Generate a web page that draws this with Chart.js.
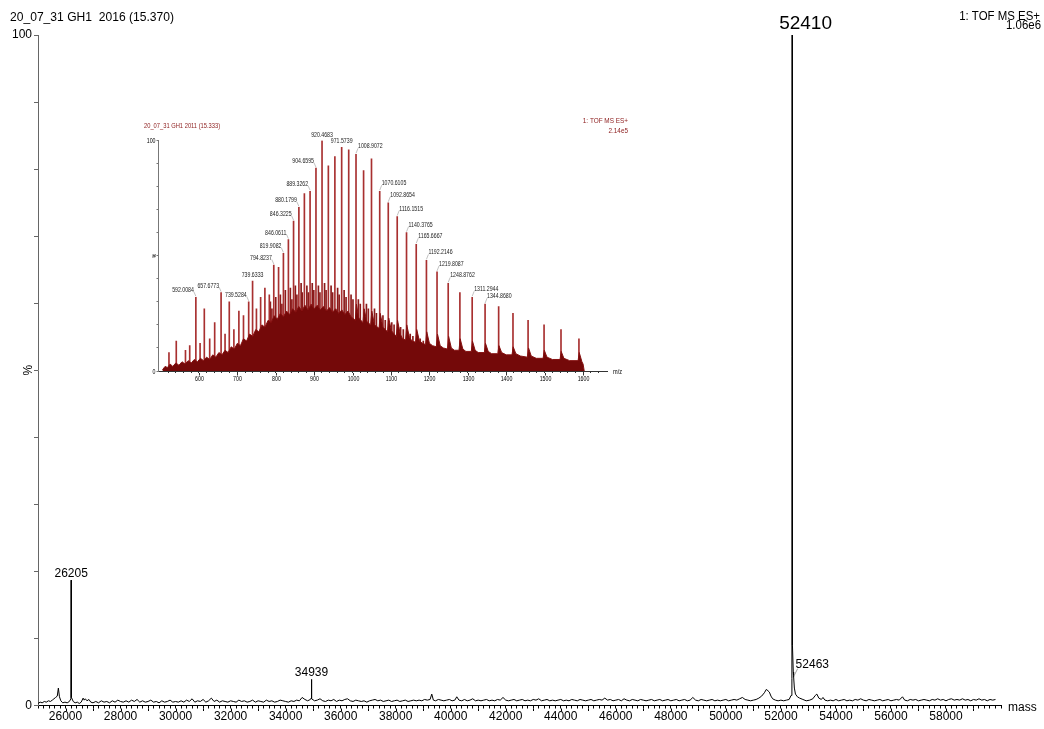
<!DOCTYPE html>
<html lang="en">
<head>
<meta charset="UTF-8">
<title>20_07_31 GH1 deconvoluted spectrum</title>
<script src="https://cdn.jsdelivr.net/npm/chart.js"></script>
<style>
  body { margin: 0; background: #fff; }
  #wrap { position: relative; width: 1044px; height: 729px; }
  #mainChart { position: absolute; left: 0; top: 0; }
  #insetChart { position: absolute; left: 130px; top: 105px; }
</style>
</head>
<body>
<div id="wrap">
  <canvas id="mainChart" width="1044" height="729"></canvas>
  <canvas id="insetChart" width="510" height="290"></canvas>
</div>
<script>
// deconvoluted spectrum, [mass, % of 1.06e6]
const mainSpectrum = [
  [25000,0.3],[25080,0.5],[25150,0.4],[25230,0.6],[25300,0.5],[25380,0.7],[25450,0.6],[25520,0.8],[25580,1.0],[25640,1.2],
  [25700,1.4],[25740,2.6],[25780,1.3],[25830,0.7],[25900,0.4],[25980,0.5],[26060,0.4],[26140,0.6],[26195,1.0],[26205,18.7],
  [26215,1.2],[26280,0.6],[26350,0.4],[26430,0.5],[26500,0.3],[26570,0.5],[26640,1.1],[26680,0.8],[26720,1.0],[26780,0.7],
  [26850,0.9],[26920,0.5],[27000,0.4],[27100,0.6],[27200,0.4],[27300,0.7],[27400,0.5],[27500,0.6],[27600,0.4],[27700,0.7],
  [27800,0.5],[27900,0.8],[28000,0.6],[28100,0.5],[28200,0.7],[28300,0.5],[28400,0.8],[28500,0.6],[28600,0.9],[28700,0.5],
  [28800,0.7],[28900,0.5],[29000,0.6],[29100,0.8],[29200,0.5],[29300,0.6],[29400,0.4],[29500,0.7],[29600,0.5],[29700,0.6],
  [29800,0.8],[29900,0.5],[30000,0.6],[30100,0.5],[30200,0.7],[30300,0.5],[30400,0.8],[30500,0.6],[30600,1.0],[30700,0.5],
  [30800,0.7],[30900,0.6],[31000,0.9],[31100,0.5],[31200,0.7],[31300,1.1],[31400,0.6],[31500,0.8],[31600,0.5],[31700,0.7],
  [31800,0.6],[31900,0.5],[32000,0.7],[32100,0.6],[32200,0.5],[32300,0.8],[32400,0.6],[32500,0.7],[32600,0.5],[32700,0.6],
  [32800,0.8],[32900,0.5],[33000,0.7],[33100,0.6],[33200,0.5],[33300,0.8],[33400,0.6],[33500,0.7],[33600,0.5],[33700,0.6],
  [33800,0.8],[33900,0.7],[34000,0.6],[34100,0.5],[34200,0.7],[34300,0.6],[34400,0.8],[34500,0.7],[34600,1.2],[34700,0.9],
  [34800,0.7],[34900,0.9],[34929,1.1],[34939,3.9],[34949,1.0],[35050,0.7],[35150,0.8],[35250,1.0],[35350,0.7],[35450,0.6],
  [35550,0.8],[35650,0.7],[35750,0.9],[35850,0.6],[35950,0.8],[36050,0.7],[36150,0.9],[36250,1.0],[36350,0.7],[36450,0.6],
  [36550,0.8],[36650,0.7],[36750,0.6],[36850,0.7],[36950,0.5],[37050,0.7],[37150,0.8],[37250,0.9],[37350,0.7],[37450,0.8],
  [37550,0.6],[37650,0.7],[37750,0.8],[37850,0.6],[37950,0.7],[38050,0.8],[38150,0.6],[38250,0.7],[38350,0.8],[38450,0.6],
  [38550,0.7],[38650,0.8],[38750,0.7],[38850,0.8],[38950,0.7],[39050,0.9],[39150,0.8],[39250,0.9],[39311,1.7],[39370,0.8],
  [39450,0.7],[39550,0.9],[39650,0.8],[39750,0.7],[39850,0.8],[39950,0.9],[40050,0.7],[40150,0.8],[40220,1.3],[40300,0.8],
  [40400,0.7],[40500,0.9],[40600,0.7],[40700,0.8],[40800,1.0],[40900,0.7],[41000,0.8],[41100,0.7],[41200,0.8],[41300,0.9],
  [41400,0.7],[41500,0.8],[41600,0.7],[41700,0.9],[41800,0.8],[41900,1.2],[42000,0.8],[42100,0.7],[42200,0.8],[42300,0.9],
  [42400,0.7],[42500,0.8],[42600,0.9],[42700,0.7],[42800,0.8],[42900,0.7],[43000,0.9],[43100,0.8],[43200,1.0],[43300,0.7],
  [43400,0.8],[43500,0.9],[43600,0.7],[43700,0.8],[43800,0.7],[43900,0.8],[44000,0.9],[44100,0.7],[44200,0.8],[44300,0.7],
  [44400,0.9],[44500,0.8],[44600,0.7],[44700,0.9],[44800,0.8],[44900,0.7],[45000,0.8],[45100,0.9],[45200,0.7],[45300,0.8],
  [45400,0.9],[45500,0.8],[45600,1.1],[45700,0.8],[45800,0.9],[45900,0.7],[46000,0.8],[46100,0.9],[46200,0.7],[46300,1.0],
  [46400,0.8],[46500,0.7],[46600,0.9],[46700,0.8],[46800,0.7],[46900,0.9],[47000,0.8],[47100,0.7],[47200,0.8],[47300,0.9],
  [47400,0.7],[47500,0.8],[47600,0.9],[47700,0.7],[47800,0.8],[47900,0.9],[48000,0.7],[48100,0.8],[48200,0.9],[48300,0.7],
  [48400,0.8],[48500,0.9],[48600,0.7],[48700,0.8],[48800,1.2],[48900,0.8],[49000,0.7],[49100,0.9],[49200,0.8],[49300,0.7],
  [49400,0.8],[49500,0.9],[49600,0.7],[49700,0.8],[49800,0.7],[49900,0.8],[50000,0.9],[50100,0.7],[50200,0.8],[50300,0.9],
  [50400,0.8],[50500,1.0],[50600,1.2],[50700,0.9],[50800,0.8],[50900,0.7],[51000,0.8],[51100,0.9],[51200,1.1],[51300,1.4],
  [51400,1.9],[51470,2.4],[51530,2.2],[51580,2.0],[51640,1.4],[51700,1.0],[51800,0.8],[51900,0.7],[52000,0.8],[52100,0.7],
  [52200,0.8],[52300,0.9],[52370,1.5],[52400,4.0],[52410,100],[52420,9],[52450,5],[52463,4.3],[52490,2.6],[52530,1.7],
  [52600,1.3],[52680,1.1],[52800,0.9],[52920,0.7],[53050,0.8],[53160,1.0],[53250,1.5],[53307,1.7],[53380,1.1],[53470,0.9],
  [53530,1.2],[53600,0.8],[53700,0.7],[53800,0.8],[53900,0.7],[54000,0.9],[54100,0.7],[54200,0.8],[54300,0.9],[54400,0.7],
  [54500,0.8],[54600,0.7],[54700,0.9],[54800,0.8],[54900,1.0],[55000,0.8],[55100,0.7],[55200,0.9],[55300,0.8],[55400,0.7],
  [55500,0.8],[55600,0.9],[55700,0.7],[55800,0.8],[55900,0.9],[56000,0.7],[56100,0.8],[56200,0.9],[56300,0.8],[56420,1.3],
  [56500,0.8],[56600,0.7],[56700,0.9],[56800,0.8],[56900,0.9],[57000,0.7],[57100,0.8],[57200,0.9],[57300,0.8],[57400,0.7],
  [57500,0.9],[57600,0.8],[57700,1.0],[57800,0.8],[57900,0.9],[58000,0.7],[58100,0.9],[58200,1.0],[58300,0.8],[58400,0.9],
  [58500,0.8],[58600,1.0],[58700,0.8],[58800,0.9],[58900,0.7],[59000,0.9],[59100,0.8],[59200,1.0],[59300,0.8],[59400,0.9],
  [59500,0.7],[59600,0.9],[59700,0.8],[59800,0.9]
];
const mainLabels = [26205, 34939, 52410, 52463];

// raw m/z spectrum (inset), resolved peaks [m/z, % of 2.14e5]
const insetPeaks = [
  [522,8],[541,13],[565,9],[576,11],[592.0084,32],[603,12],[614,27],[628,14],[641,21],[657.6773,34],
  [668,16],[679,30],[691,18],[704,26],[716,24],[729.5284,30],[739.6333,39],[749.7,27],[760.6,32],[771.7,36],
  [783.2,33],[794.8237,46],[807.3,45],[819.9082,51],[832.9,57],[846.3225,65],[860.1799,71],[874.5,77],[889.3262,78],[904.6595,88],
  [920.4683,100],[936.9,89],[953.9,93],[971.5739,97],[989.9,96],[1008.9072,94],[1028.6,87],[1049.2,92],[1070.6105,78],[1092.8654,73],
  [1116.1515,67],[1140.3765,60],[1165.6667,55],[1192.2146,48],[1219.8087,43],[1248.8762,38],[1279.3,34],[1311.2944,32],[1344.868,29],[1380.2,28],
  [1417.5,25],[1456.8,22],[1498.4,20],[1542.5,18],[1589.2,14]
];
// minor spikes riding on the envelope
const insetMinor = [
  [786,30],[790,27],[800,32],[812,33],[816,29],[825,35],[838,36],[842,31],[851,37],[855,33],
  [866,38],[869,34],[881,37],[885,34],[895,38],[899,35],[911,37],[915,34],[927,38],[931,35],
  [944,37],[948,34],[961,36],[965,33],[978,35],[983,32],[996,33],[1001,31],[1015,31],[1020,29],
  [1036,29],[1041,27],[1057,27],[1062,25],[1079,24],[1085,22],[1102,21],[1108,20],[1125,19],[1132,18],
  [1150,16],[1157,15],[1176,14],[1184,13]
];
// unresolved envelope under the charge series, [m/z, %]
const insetHump = [
  [505,0.5],[512,2],[518,1.5],[525,3],[532,2],[540,3.5],[548,2.5],[556,4],[564,3],[572,4.5],
  [580,3.5],[588,5],[596,4],[604,5.5],[612,4.5],[620,6],[628,5],[636,7],[644,6],[652,8],
  [660,7],[668,9],[676,8],[684,10.5],[692,9.5],[700,12],[708,11],[716,14],[724,13],[732,16],
  [740,15],[748,18],[756,17],[764,20],[772,19],[780,22],[788,21],[796,24],[804,22.5],[812,25],
  [820,23.5],[828,26],[836,24.5],[844,27],[852,25.5],[860,28],[868,26],[876,28.5],[884,26.5],[892,29],
  [900,27],[908,28.5],[916,26.5],[924,28],[932,26],[940,27.5],[948,25.5],[956,27],[964,25],[972,26.5],
  [980,24.5],[988,26],[996,23.5],[1007,22],[1010,29],[1016,23],[1027,21],[1030,27],[1037,21.5],[1047,20],
  [1050,26],[1057,20],[1069,18.5],[1072,25],[1079,19],[1091,17],[1094,23],[1101,17.5],[1114,15],[1117,22],
  [1124,16],[1130,14],[1138,13.5],[1141,20],[1148,14.5],[1155,13],[1164,12.5],[1167,18],[1174,13],[1182,12],
  [1190,11.5],[1193,17],[1200,12],[1208,11],[1218,10.5],[1221,16],[1228,11],[1236,10],[1247,9.5],[1250,15],
  [1257,10],[1265,9],[1277,9],[1280,14],[1287,9.5],[1295,8.5],[1309,8.5],[1312,13],[1319,9],[1327,8],
  [1343,8],[1346,12],[1353,8.5],[1362,7.5],[1378,7.5],[1381,11],[1388,8],[1400,7],[1415,7],[1418,10.5],
  [1425,7.5],[1437,6.5],[1455,6],[1458,10],[1465,6.5],[1478,5.5],[1496,5.5],[1499,9],[1506,6],[1520,5],
  [1540,5],[1543,8.5],[1550,5.5],[1565,4.5],[1587,4.5],[1590,8],[1597,4],[1600,3],[1603,0]
];
// annotated peaks: [m/z of peak, label]
const insetLabels = [
  [592.0084,'592.0084'],[657.6773,'657.6773'],[729.5284,'739.5284'],[739.6333,'739.6333'],[794.8237,'794.8237'],
  [819.9082,'819.9082'],[832.9,'846.0611'],[846.3225,'846.3225'],[860.1799,'880.1799'],[889.3262,'889.3262'],
  [904.6595,'904.6595'],[920.4683,'920.4683'],[971.5739,'971.5739'],[1008.9072,'1008.9072'],[1070.6105,'1070.6105'],
  [1092.8654,'1092.8654'],[1116.1515,'1116.1515'],[1140.3765,'1140.3765'],[1165.6667,'1165.6667'],[1192.2146,'1192.2146'],
  [1219.8087,'1219.8087'],[1248.8762,'1248.8762'],[1311.2944,'1311.2944'],[1344.868,'1344.8680']
];

const FONT = '"Liberation Sans", Arial, Helvetica, sans-serif';
Chart.defaults.font.family = FONT;

function drawText(ctx, s, x, y, size, align, sx, color) {
  ctx.save();
  ctx.font = size + 'px ' + FONT;
  ctx.fillStyle = color || '#000';
  ctx.textAlign = 'left';
  ctx.textBaseline = 'alphabetic';
  const w = ctx.measureText(s).width * sx;
  const x0 = align === 'center' ? x - w / 2 : (align === 'right' ? x - w : x);
  ctx.translate(x0, y);
  ctx.scale(sx, 1);
  ctx.fillText(s, 0, 0);
  ctx.restore();
}

function seg(ctx, x1, y1, x2, y2, color, w) {
  ctx.save();
  ctx.strokeStyle = color;
  ctx.lineWidth = w;
  ctx.beginPath();
  ctx.moveTo(x1, y1);
  ctx.lineTo(x2, y2);
  ctx.stroke();
  ctx.restore();
}

const mainDeco = {
  id: 'mainDeco',
  afterDraw(chart, args, opts) {
    const { ctx, chartArea: a, scales: { x, y } } = chart;
    drawText(ctx, '20_07_31 GH1  2016 (15.370)', 10, 21, 13, 'left', 0.93);
    drawText(ctx, '1: TOF MS ES+', 1040, 20, 13, 'right', 0.88);
    drawText(ctx, '1.06e6', 1041, 28.5, 13, 'right', 0.88);
    drawText(ctx, 'mass', a.right + 7, a.bottom + 5, 12, 'left', 1);

    ctx.save();
    ctx.translate(32, y.getPixelForValue(50));
    ctx.rotate(-Math.PI / 2);
    drawText(ctx, '%', 0, 0, 12, 'center', 1);
    ctx.restore();

    // longer ticks every 1000
    for (let v = 26000; v < 60000; v += 1000) {
      const px = Math.round(x.getPixelForValue(v)) + 0.5;
      seg(ctx, px, a.bottom + 3, px, a.bottom + 5.5, '#000', 1);
    }

    mainLabels.forEach(m => {
      const p = mainSpectrum.find(d => d[0] === m);
      const px = x.getPixelForValue(m);
      const py = y.getPixelForValue(p[1]);
      const style = opts.styles[m] || 'center';
      if (style === 'big') {
        drawText(ctx, String(m), px - 13, py - 6.5, 19, 'left', 1);
      } else if (style === 'leader') {
        seg(ctx, px + 0.5, py - 1, px + 4, py - 8, '#888', 0.8);
        drawText(ctx, String(m), px + 2, py - 9, 12, 'left', 1);
      } else {
        drawText(ctx, String(m), px, py - 3, 12, 'center', 1);
      }
    });
  }
};

const insetDeco = {
  id: 'insetDeco',
  afterDraw(chart, args, opts) {
    const { ctx, chartArea: a, scales: { x, y } } = chart;
    const red = '#8b1a1a';
    drawText(ctx, '20_07_31 GH1 2011 (15.333)', 14, 23, 8, 'left', 0.72, red);
    drawText(ctx, '1: TOF MS ES+', 498, 17.5, 8, 'right', 0.8, red);
    drawText(ctx, '2.14e5', 498, 28, 8, 'right', 0.8, red);

    drawText(ctx, '100', a.left - 3, y.getPixelForValue(100) + 2.5, 7, 'right', 0.75);
    drawText(ctx, '0', a.left - 3, y.getPixelForValue(0) + 2.5, 7, 'right', 0.75);
    ctx.save();
    ctx.translate(a.left - 3, y.getPixelForValue(50));
    ctx.rotate(-Math.PI / 2);
    drawText(ctx, '%', 0, 0, 6, 'center', 0.8);
    ctx.restore();

    for (let v = 600; v <= 1600; v += 100) {
      const px = Math.round(x.getPixelForValue(v)) + 0.5;
      seg(ctx, px, a.bottom + 2, px, a.bottom + 4.5, '#333', 1);
      drawText(ctx, String(v), px, a.bottom + 10, 7, 'center', 0.75);
    }
    drawText(ctx, 'm/z', a.right + 6, a.bottom + 2.5, 7, 'left', 0.8);

    insetLabels.forEach(([mz, text]) => {
      const p = insetPeaks.find(d => d[0] === mz);
      const px = x.getPixelForValue(mz);
      const py = y.getPixelForValue(p[1]);
      let align = mz < 915 ? 'right' : (mz < 1000 ? 'center' : 'left');
      if (opts.align[text]) align = opts.align[text];
      if (align === 'right') {
        seg(ctx, px - 2, py - 5.5, px, py - 1, '#999', 0.6);
        drawText(ctx, text, px - 2, py - 5, 8, 'right', 0.65, '#222');
      } else if (align === 'left') {
        seg(ctx, px, py - 1, px + 2, py - 6, '#999', 0.6);
        drawText(ctx, text, px + 2, py - 6, 8, 'left', 0.65, '#222');
      } else {
        drawText(ctx, text, px, py - 4, 8, 'center', 0.65, '#222');
      }
    });
  }
};

new Chart(document.getElementById('mainChart'), {
  type: 'line',
  data: {
    datasets: [{
      data: mainSpectrum.map(d => ({ x: d[0], y: d[1] })),
      borderColor: '#000',
      borderWidth: 1,
      pointRadius: 0,
      tension: 0,
      fill: false
    }]
  },
  options: {
    responsive: false,
    animation: false,
    devicePixelRatio: 1,
    layout: { padding: { top: 35, right: 43, left: 0, bottom: 0 } },
    plugins: {
      legend: { display: false },
      tooltip: { enabled: false },
      mainDeco: { styles: { 52410: 'big', 52463: 'leader' } }
    },
    scales: {
      x: {
        type: 'linear', min: 25000, max: 60000,
        afterFit: s => { s.height = 23.5; },
        border: { color: '#000', width: 1 },
        grid: { drawOnChartArea: false, tickLength: 3, color: '#000' },
        ticks: {
          stepSize: 200, autoSkip: false, maxRotation: 0, minRotation: 0, padding: 1,
          color: '#000', font: { size: 12 },
          callback: v => (v % 2000 === 0 && v > 25000 && v < 60000) ? String(v) : ''
        }
      },
      y: {
        min: 0, max: 100,
        afterFit: s => { s.width = 38; },
        border: { color: '#666', width: 1 },
        grid: { drawOnChartArea: false, tickLength: 4, color: '#666' },
        ticks: {
          stepSize: 10, padding: 2, color: '#000', font: { size: 12 },
          callback: v => (v === 0 || v === 100) ? String(v) : ''
        }
      }
    }
  },
  plugins: [mainDeco]
});

new Chart(document.getElementById('insetChart'), {
  type: 'line',
  data: {
    datasets: [
      {
        data: insetHump.map(d => ({ x: d[0], y: d[1] })),
        borderColor: '#861212',
        backgroundColor: '#740909',
        borderWidth: 1,
        pointRadius: 0,
        tension: 0,
        fill: 'origin',
        order: 0
      },
      {
        type: 'bar',
        data: insetPeaks.map(d => ({ x: d[0], y: d[1] })),
        backgroundColor: '#a83030',
        barThickness: 1,
        order: 1
      },
      {
        type: 'bar',
        data: insetMinor.map(d => ({ x: d[0], y: d[1] })),
        backgroundColor: '#8a1a1a',
        barThickness: 1,
        order: 2
      }
    ]
  },
  options: {
    responsive: false,
    animation: false,
    devicePixelRatio: 1,
    layout: { padding: { top: 35.5, right: 33, left: 0, bottom: 0 } },
    datasets: { bar: { grouped: false } },
    plugins: {
      legend: { display: false },
      tooltip: { enabled: false },
      insetDeco: { align: { '739.6333': 'center' } }
    },
    scales: {
      x: {
        type: 'linear', min: 505, max: 1652,
        afterFit: s => { s.height = 24; },
        border: { color: '#333', width: 1 },
        grid: { drawOnChartArea: false, tickLength: 2, color: '#333', offset: false },
        ticks: { stepSize: 20, includeBounds: false, autoSkip: false, display: false }
      },
      y: {
        min: 0, max: 100,
        afterFit: s => { s.width = 28.5; },
        border: { color: '#777', width: 1 },
        grid: { drawOnChartArea: false, tickLength: 2, color: '#777' },
        ticks: { stepSize: 10, display: false }
      }
    }
  },
  plugins: [insetDeco]
});
</script>
</body>
</html>
